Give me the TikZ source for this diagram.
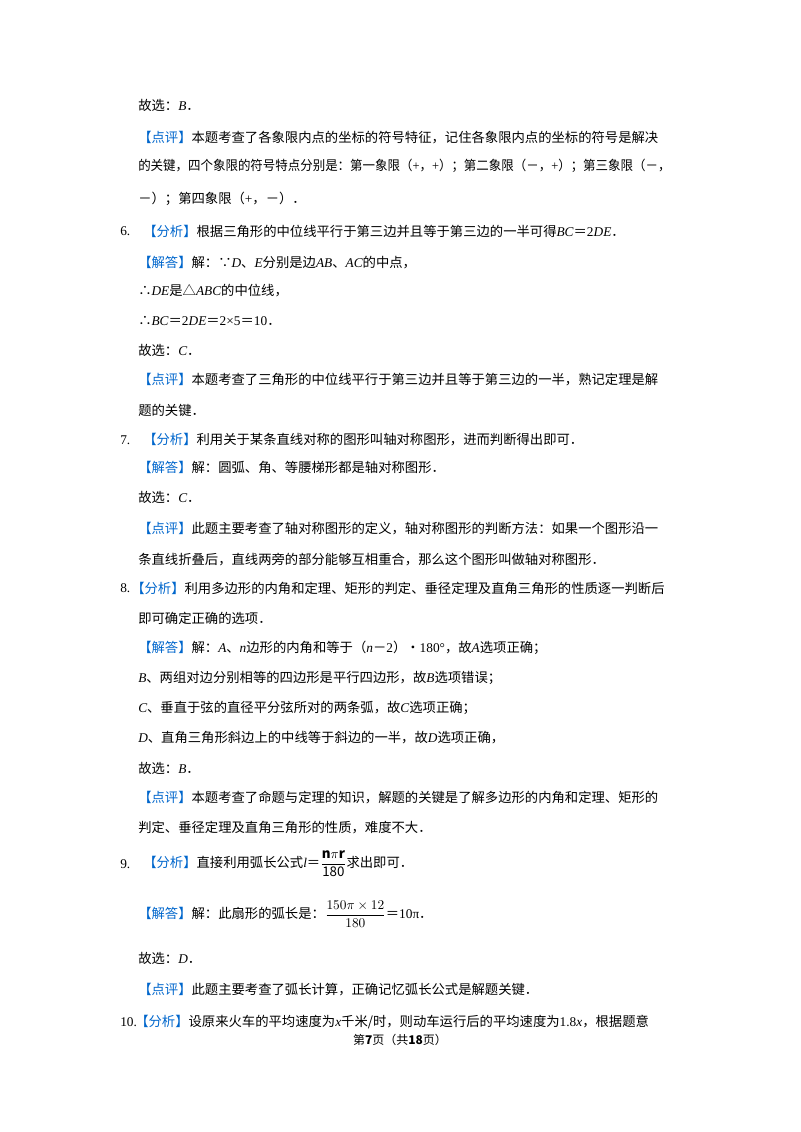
\documentclass[tikz,border=0pt]{standalone}
\usepackage{amsmath}
\usepackage{graphicx}
\usepackage{fontspec}
\setmainfont{Noto Sans CJK SC}
\newfontfamily\tm{Liberation Serif}
\definecolor{kb}{RGB}{0,102,204}
\newcommand{\I}[1]{{\tm\itshape #1}}
\newcommand{\R}[1]{{\tm #1}}
\newcommand{\tg}[1]{{\color{kb}【#1】}}
\begin{document}
\begin{tikzpicture}[x=0.75pt,y=-0.75pt,t/.style={anchor=west,inner sep=0pt,font=\fontsize{10}{12}\selectfont}]
\useasboundingbox (0,0) rectangle (800,1132);
\node[t] (l1) at (138,105) {故选：\I{B}．};
\node[t] (l2) at (138,138) {\tg{点评}本题考查了各象限内点的坐标的符号特征，记住各象限内点的坐标的符号是解决};
\node[t] (l3) at (138,166) {\scalebox{0.935}[1]{的关键，四个象限的符号特点分别是：第一象限（\R{+}，\R{+}）；第二象限（－，\R{+}）；第三象限（－，}};
\node[t] (l4) at (138,199) {－）；第四象限（\R{+}，－）．};
\node[t] (n6) at (120,231) {\R{6.}};
\node[t] (l5) at (143,231) {\tg{分析}根据三角形的中位线平行于第三边并且等于第三边的一半可得\I{BC}＝\R{2}\I{DE}．};
\node[t] (l6) at (138,263) {\tg{解答}解：∵\I{D}、\I{E}分别是边\I{AB}、\I{AC}的中点，};
\node[t] (l7) at (138,291) {∴\I{DE}是△\I{ABC}的中位线，};
\node[t] (l8) at (138,321) {∴\I{BC}＝\R{2}\I{DE}＝\R{2×5}＝\R{10}．};
\node[t] (l9) at (138,350) {故选：\I{C}．};
\node[t] (l10) at (138,380) {\tg{点评}本题考查了三角形的中位线平行于第三边并且等于第三边的一半，熟记定理是解};
\node[t] (l11) at (138,410) {题的关键．};
\node[t] (n7) at (120,440) {\R{7.}};
\node[t] (l12) at (143,440) {\tg{分析}利用关于某条直线对称的图形叫轴对称图形，进而判断得出即可．};
\node[t] (l13) at (138,467) {\tg{解答}解：圆弧、角、等腰梯形都是轴对称图形．};
\node[t] (l14) at (138,497) {故选：\I{C}．};
\node[t] (l15) at (138,529) {\tg{点评}此题主要考查了轴对称图形的定义，轴对称图形的判断方法：如果一个图形沿一};
\node[t] (l16) at (138,560) {条直线折叠后，直线两旁的部分能够互相重合，那么这个图形叫做轴对称图形．};
\node[t] (n8) at (120,588) {\R{8.}};
\node[t] (l17) at (131,588) {\tg{分析}利用多边形的内角和定理、矩形的判定、垂径定理及直角三角形的性质逐一判断后};
\node[t] (l18) at (138,618) {即可确定正确的选项．};
\node[t] (l19) at (138,648) {\tg{解答}解：\I{A}、\I{n}边形的内角和等于（\I{n}－\R{2}）•\R{180°}，故\I{A}选项正确；};
\node[t] (l20) at (138,678) {\I{B}、两组对边分别相等的四边形是平行四边形，故\I{B}选项错误；};
\node[t] (l21) at (138,708) {\I{C}、垂直于弦的直径平分弦所对的两条弧，故\I{C}选项正确；};
\node[t] (l22) at (138,738) {\I{D}、直角三角形斜边上的中线等于斜边的一半，故\I{D}选项正确，};
\node[t] (l23) at (138,768) {故选：\I{B}．};
\node[t] (l24) at (138,798) {\tg{点评}本题考查了命题与定理的知识，解题的关键是了解多边形的内角和定理、矩形的};
\node[t] (l25) at (138,828) {判定、垂径定理及直角三角形的性质，难度不大．};
\node[t] (n9) at (120,864) {\R{9.}};
\node[t] (l26) at (143,864) {\tg{分析}直接利用弧长公式\I{l}＝$\dfrac{\mathbf{n\pi r}}{\mathrm{180}}$求出即可．};
\node[t] (l27) at (138,914) {\tg{解答}解：此扇形的弧长是：$\dfrac{150\pi\times12}{180}$＝\R{10π}．};
\node[t] (l28) at (138,958) {故选：\I{D}．};
\node[t] (l29) at (138,990) {\tg{点评}此题主要考查了弧长计算，正确记忆弧长公式是解题关键．};
\node[t] (n10) at (120,1022) {\R{10.}};
\node[t] (l30) at (135,1022) {\tg{分析}设原来火车的平均速度为\I{x}千米/时，则动车运行后的平均速度为\R{1.8}\I{x}，根据题意};
\node[inner sep=0pt,font=\fontsize{9}{11}\selectfont] (ft) at (400,1040) {第\textbf{7}页（共\textbf{18}页）};
\end{tikzpicture}
\end{document}
